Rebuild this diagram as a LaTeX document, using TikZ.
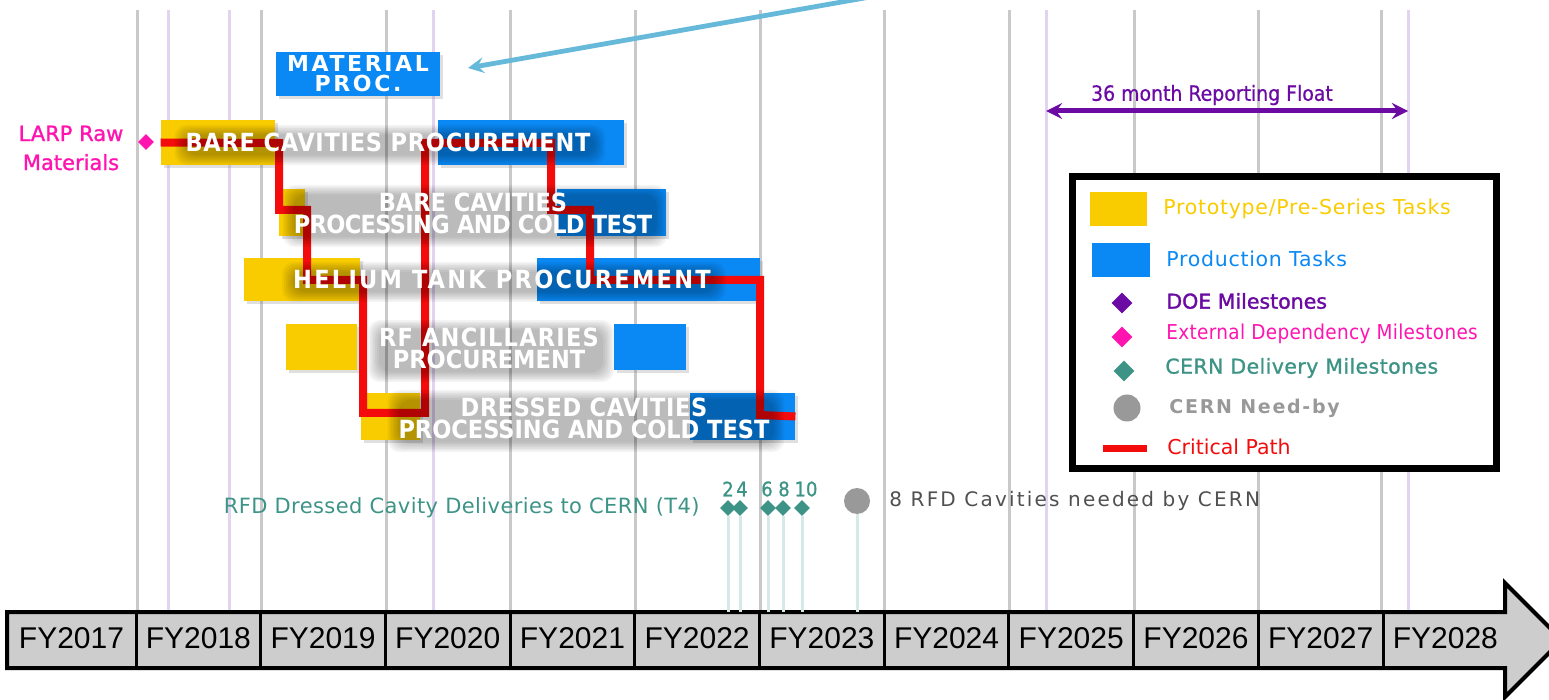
\documentclass[tikz,border=0pt]{standalone}
\usepackage{fontspec}
\setmainfont{DejaVu Sans}
\newfontfamily\condfont{DejaVu Sans Condensed}
\newfontfamily\yearfont{Liberation Sans}
\usetikzlibrary{calc,fit,shapes.geometric,shadows}

\definecolor{protoyellow}{HTML}{F9CC00}
\definecolor{prodblue}{HTML}{0A89F5}
\definecolor{critred}{HTML}{F40B0B}
\definecolor{gridgray}{HTML}{C9C9C9}
\definecolor{gridpurple}{HTML}{E2D3F0}
\definecolor{cernteal}{HTML}{3D9486}
\definecolor{stemteal}{HTML}{D5E9E7}
\definecolor{doepurple}{HTML}{6B0BA3}
\definecolor{extpink}{HTML}{FF14B0}
\definecolor{pointerblue}{HTML}{66B9D9}
\definecolor{axisgray}{HTML}{CDCDCD}
\definecolor{needgray}{HTML}{999999}
\definecolor{needtext}{HTML}{505050}

\pgfdeclarelayer{front}
\pgfsetlayers{main,front}

% white task text on a soft dark halo
\newcommand\glowlabel[3]{%
  \begin{pgfonlayer}{front}
    \node[tasktext] (#1) at (#2) {#3};
  \end{pgfonlayer}
  \foreach \e in {1,...,7}
    {\fill[black, opacity=0.045, rounded corners=6pt]
      ($(#1.south west)+(-1.8*\e+2,1.6*\e+2)$) rectangle ($(#1.north east)+(1.8*\e+2,-1.6*\e+4)$);}
}

\begin{document}
\begin{tikzpicture}[x=0.5pt,y=-0.5pt]
    % Styles for bars, lines and texts
    \tikzset{
      taskbox/.style={rectangle, inner sep=0pt, draw=none, drop shadow={shadow xshift=1.5pt, shadow yshift=-1.5pt, opacity=0.25}},
      tasktext/.style={text=white, inner sep=0pt, align=center, font=\condfont\bfseries\fontsize{12.5}{11}\selectfont},
      gridline/.style={draw=gridgray, line width=1.5pt},
      axisbody/.style={fill=axisgray, draw=black, line width=2pt, line join=miter},
      axisdiv/.style={draw=black, line width=1.5pt},
      yearlabel/.style={inner sep=0pt, font=\yearfont\fontsize{15}{18}\selectfont},
      critpath/.style={draw=critred, line width=4pt, line join=miter},
      pointer/.style={draw=pointerblue, line width=2.4pt, ->, >=stealth},
      floatarrow/.style={draw=doepurple, line width=2.5pt, <->, >=stealth},
      ms/.style={diamond, inner sep=0pt, minimum width=8pt, minimum height=8pt},
      stem/.style={draw=stemteal, line width=1.5pt},
      legtext/.style={anchor=west, inner sep=0pt, font=\fontsize{10.25}{12}\selectfont\addfontfeature{LetterSpace=3.5}}
    }
    \useasboundingbox (0,0) rectangle (1549,700);
    \clip (0,0) rectangle (1549,700);

    % Year grid
    \foreach \gx in {137,261,386,510,635,760,884,1009,1134,1258,1381}
      \draw[gridline] (\gx,10) -- (\gx,612);
    \foreach \gx in {168,229,433,1046,1408}
      \draw[gridline, draw=gridpurple] (\gx,10) -- (\gx,612);

    % Time axis
    \coordinate (axtop) at (0,612);
    \filldraw[axisbody] (7,612) -- (1505,612) -- (1505,583) -- (1562,640) -- (1505,697) -- (1505,668) -- (7,668) -- cycle;
    \foreach \k in {0,...,10}
      \draw[axisdiv] ({136+124.7*\k},612) -- ({136+124.7*\k},668);
    \foreach \yr [count=\k from 0] in {2017,...,2028} {
      \pgfmathsetmacro\cx{ifthenelse(\k==0,71.5,136+124.7*(\k-0.5))}
      \node[yearlabel] (fy\yr) at (\cx,638) {FY\yr};
    }

    % Task bars
    \node[taskbox, fill=prodblue, fit={(276,52) (440,96)}] (matproc) {};
    \node[taskbox, fill=protoyellow, fit={(161,120) (275,165)}] (bcpProto) {};
    \node[taskbox, fill=prodblue, fit={(438,120) (624,165)}] (bcpProd) {};
    \node[taskbox, fill=protoyellow, fit={(279,189) (305,236)}] (bctProto) {};
    \node[taskbox, fill=prodblue, fit={(557,189) (666,236)}] (bctProd) {};
    \node[taskbox, fill=protoyellow, fit={(244,258) (360,301)}] (htpProto) {};
    \node[taskbox, fill=prodblue, fit={(537,258) (760,301)}] (htpProd) {};
    \node[taskbox, fill=protoyellow, fit={(286,324) (357,370)}] (rfaProto) {};
    \node[taskbox, fill=prodblue, fit={(614,324) (686,370)}] (rfaProd) {};
    \node[taskbox, fill=protoyellow, fit={(361,393) (420,440)}] (dctProto) {};
    \node[taskbox, fill=prodblue, fit={(690,393) (795,440)}] (dctProd) {};

    % Critical path
    \draw[critpath] (bcpProto.west) -- (279,143) -- (279,210) -- (307,210) -- (307,280) -- (363,280)
      -- (363,413) -- (425,413) -- (425,143) -- (551,143) -- (551,210) -- (590,210) -- (590,280)
      -- (760,280) -- (760,415) -- (dctProd.east);

    % Task labels
    \glowlabel{bcpLabel}{388,142}{\addfontfeature{LetterSpace=3}BARE CAVITIES PROCUREMENT}
    \glowlabel{bctLabel}{473,213}{BARE CAVITIES\\{\addfontfeature{LetterSpace=-2.5}PROCESSING AND COLD TEST}}
    \glowlabel{htpLabel}{502,279}{\addfontfeature{LetterSpace=9}HELIUM TANK PROCUREMENT}
    \glowlabel{rfaLabel}{489,348}{{\addfontfeature{LetterSpace=5}RF ANCILLARIES}\\PROCUREMENT}
    \glowlabel{dctLabel}{584,418}{\addfontfeature{LetterSpace=2.5}DRESSED CAVITIES\\PROCESSING AND COLD TEST}
    \node[text=white, align=center, inner sep=0pt, font=\bfseries\fontsize{11}{10}\selectfont\addfontfeature{LetterSpace=12}] (matLabel) at (358,74) {MATERIAL\\PROC.};

    % Pointer to material procurement
    \coordinate (ptrStart) at (870,-3);
    \coordinate (ptrEnd) at (468,68);
    \draw[pointer] (ptrStart) -- (ptrEnd);

    % External dependency
    \node[text=extpink, align=center, inner sep=0pt, font=\fontsize{10.5}{14.5}\selectfont\addfontfeature{FakeBold=1.2}] (larp) at (71,148) {LARP Raw\\Materials};
    \node[ms, fill=extpink] (larpMs) at (146,142) {};

    % Reporting float
    \coordinate (floatL) at (1046,111);
    \coordinate (floatR) at (1408,111);
    \draw[floatarrow] (floatL) -- (floatR);
    \node[text=doepurple, inner sep=0pt, font=\condfont\fontsize{10.5}{12}\selectfont\addfontfeature{FakeBold=0.6}] (floatLabel) at (1212,95) {36 month Reporting Float};

    % Legend
    \node[draw=black, line width=3.5pt, fill=white, inner sep=0pt, fit={(1072.5,176.5) (1496.5,468.5)}] (legend) {};
    \node[inner sep=0pt, fill=protoyellow, fit={(1090,192) (1147,226)}] (legProto) {};
    \node[inner sep=0pt, fill=prodblue, fit={(1092,243) (1150,277)}] (legProd) {};
    \node[ms, fill=doepurple, minimum width=10.5pt, minimum height=10.5pt] (legDoe) at (1122,303) {};
    \node[ms, fill=extpink, minimum width=10.5pt, minimum height=10.5pt] (legExt) at (1122,337) {};
    \node[ms, fill=cernteal, minimum width=10.5pt, minimum height=10.5pt] (legCern) at (1124,371) {};
    \node[circle, fill=needgray, inner sep=0pt, minimum size=13.5pt] (legNeed) at (1127,408) {};
    \coordinate (legCritL) at (1103,449);
    \coordinate (legCritR) at (1147,449);
    \draw[critred, line width=3.5pt] (legCritL) -- (legCritR);
    \node[legtext, text=protoyellow] (legProtoText) at (1163,209) {Prototype/Pre-Series Tasks};
    \node[legtext, text=prodblue] (legProdText) at (1166,259) {Production Tasks};
    \node[legtext, text=doepurple, font=\fontsize{10.25}{12}\selectfont\addfontfeature{FakeBold=1.5}] (legDoeText) at (1166,301) {DOE Milestones};
    \node[legtext, text=extpink, font=\condfont\fontsize{10.25}{12}\selectfont\addfontfeature{LetterSpace=1.6}] (legExtText) at (1166,334) {External Dependency Milestones};
    \node[legtext, text=cernteal, font=\fontsize{10.25}{12}\selectfont\addfontfeature{FakeBold=1,LetterSpace=2}] (legCernText) at (1165,368) {CERN Delivery Milestones};
    \node[legtext, text=needgray, font=\bfseries\fontsize{9.5}{12}\selectfont\addfontfeature{LetterSpace=9}] (legNeedText) at (1169,408) {CERN Need-by};
    \node[legtext, text=critred, font=\fontsize{10.25}{12}\selectfont] (legCritText) at (1167,447) {Critical Path};

    % CERN deliveries
    \node[anchor=east, text=cernteal, inner sep=0pt, font=\fontsize{10.5}{12}\selectfont\addfontfeature{LetterSpace=2}] (rfdLabel) at (700,508) {RFD Dressed Cavity Deliveries to CERN (T4)};
    \foreach \n/\dx/\tx in {2/728/728,4/740/742,6/768/767,8/783/784,10/802/806} {
      \node[ms, fill=cernteal] (dl\n) at (\dx,508) {};
      \draw[stem] (dl\n.south) -- (dl\n.south |- axtop);
      \node[text=cernteal, inner sep=0pt, font=\condfont\fontsize{10}{12}\selectfont\addfontfeature{FakeBold=1}] (num\n) at (\tx,489) {\n};
    }
    \node[circle, fill=needgray, inner sep=0pt, minimum size=13pt] (needBy) at (857,501) {};
    \draw[stem] (needBy.south) -- (needBy.south |- axtop);
    \node[anchor=west, text=needtext, inner sep=0pt, font=\fontsize{10}{12}\selectfont\addfontfeature{LetterSpace=11}] (needLabel) at (889,501) {8 RFD Cavities needed by CERN};

\end{tikzpicture}
\end{document}
